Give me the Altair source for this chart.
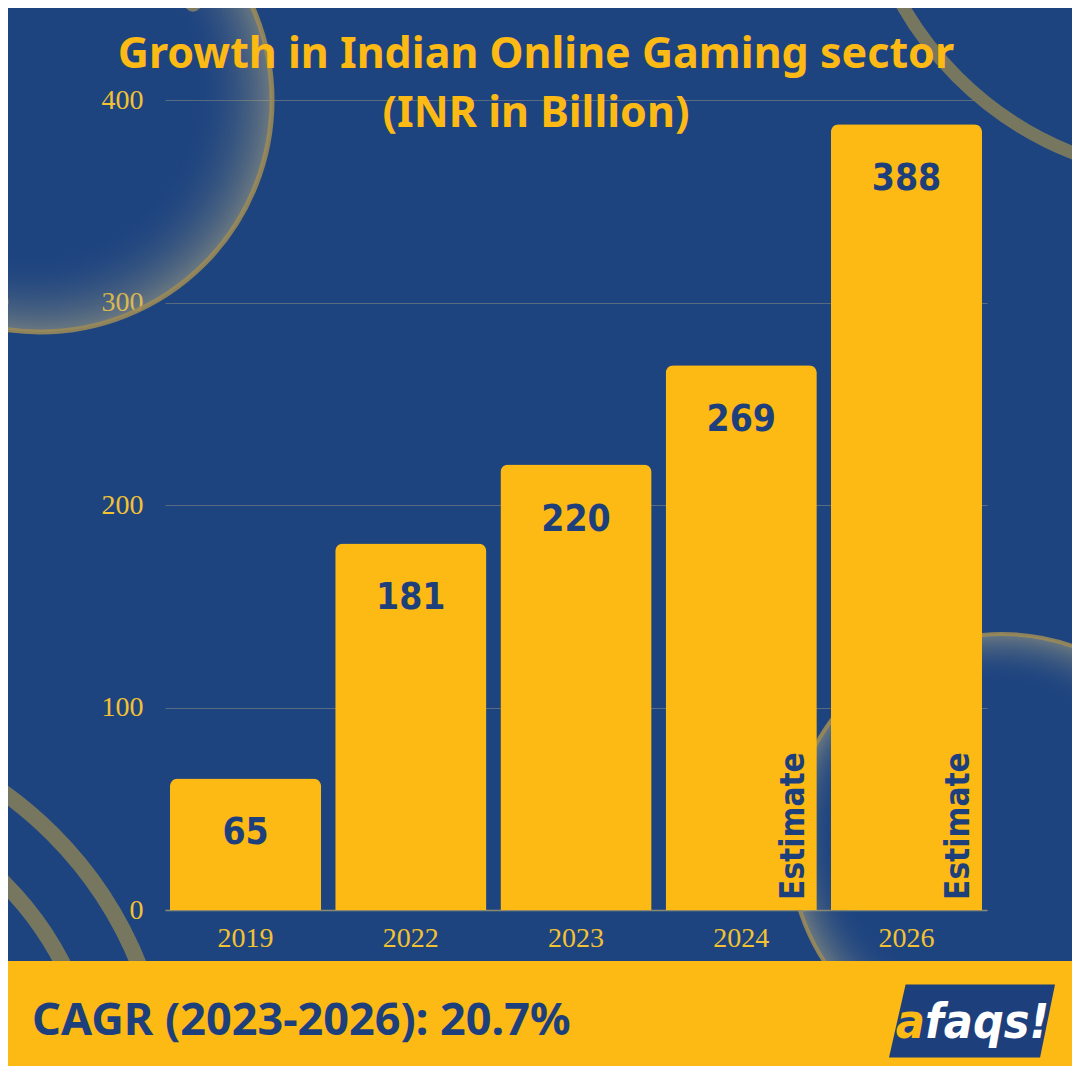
import altair as alt
import pandas as pd

# ---- data ----
years = ["2019", "2022", "2023", "2024", "2026"]
values = [65, 181, 220, 269, 388]
estimate = [False, False, False, True, True]
y_ticks = [0, 100, 200, 300, 400]
title_lines = ["Growth in Indian Online Gaming sector", "(INR in Billion)"]
cagr_text = "CAGR (2023-2026): 20.7%"

df = pd.DataFrame({"year": years, "value": values, "estimate": estimate})
df_est = df[df["estimate"]].assign(label="Estimate")

BG = "#1e4480"
YEL = "#fdb914"
NAVY = "#1d3f7c"
ARC = "#77775f"
COND = "DejaVu Sans Condensed, Roboto, sans-serif"
W, H = 822, 810

one = alt.Data(values=[{}])

x_enc = alt.X("year:N", sort=years,
              scale=alt.Scale(paddingInner=0.085, paddingOuter=0.03),
              axis=alt.Axis(title=None, labelAngle=0, labelPadding=14, ticks=False,
                            domain=True, domainColor="#8c8a6e", domainWidth=1.5,
                            labelFont="Liberation Serif", labelFontSize=28,
                            labelColor="#f2c232", grid=False))
y_enc = alt.Y("value:Q", scale=alt.Scale(domain=[0, 400], nice=False),
              axis=alt.Axis(title=None, values=y_ticks, ticks=False, domain=False,
                            labelFont="Liberation Serif", labelFontSize=28,
                            labelColor="#f2c232", labelPadding=22,
                            grid=True, gridColor="#8a8c80", gridOpacity=0.55, gridWidth=1))

glow = {"gradient": "radial", "x1": 0.4, "y1": 0.4, "r1": 0.0,
        "x2": 0.5, "y2": 0.5, "r2": 0.5,
        "stops": [{"offset": 0, "color": "rgba(30,68,128,0)"},
                  {"offset": 0.72, "color": "rgba(30,68,128,0)"},
                  {"offset": 1, "color": "rgba(200,185,130,0.45)"}]}

# decorative shapes (plot coords: page minus (165,100))
bubble_tl = alt.Chart(one).mark_point(filled=True, fill=glow, stroke="#9a8a58", strokeWidth=5,
                                       opacity=1, strokeOpacity=0.9).encode(
    x=alt.value(-125), y=alt.value(0), size=alt.value(464 ** 2))
bubble_br = alt.Chart(one).mark_point(filled=True, fill=glow, stroke="#9a8a58", strokeWidth=4,
                                       opacity=1, strokeOpacity=0.9).encode(
    x=alt.value(837), y=alt.value(746), size=alt.value(424 ** 2))
arc_tr = alt.Chart(one).mark_point(filled=False, stroke=ARC, strokeWidth=13, opacity=1).encode(
    x=alt.value(1034), y=alt.value(-265), size=alt.value(684 ** 2))
arc_bl1 = alt.Chart(one).mark_point(filled=False, stroke=ARC, strokeWidth=16, opacity=1).encode(
    x=alt.value(-388), y=alt.value(1010), size=alt.value(780 ** 2))
arc_bl2 = alt.Chart(one).mark_point(filled=False, stroke=ARC, strokeWidth=16, opacity=1).encode(
    x=alt.value(-388), y=alt.value(1010), size=alt.value(642 ** 2))
dot1 = alt.Chart(one).mark_point(filled=True, color="#7b7a66", opacity=1).encode(
    x=alt.value(28), y=alt.value(-97), size=alt.value(300))
dot2 = alt.Chart(one).mark_point(filled=True, color="#7b7a66", opacity=1).encode(
    x=alt.value(-165), y=alt.value(202), size=alt.value(300))

bars = alt.Chart(df).mark_bar(color=YEL, cornerRadiusTopLeft=8, cornerRadiusTopRight=8).encode(
    x=x_enc, y=y_enc)

labels = alt.Chart(df).mark_text(font=COND, fontWeight="bold", fontSize=37,
                                 color=NAVY, baseline="middle", dy=55).encode(
    x=alt.X("year:N", sort=years), y="value:Q", text="value:Q")

est = alt.Chart(df_est).mark_text(font=COND, fontWeight="bold", fontSize=33,
                                  color=NAVY, angle=270, align="left", baseline="middle").encode(
    x=alt.X("year:N", sort=years, bandPosition=0.85), y=alt.datum(5), text="label:N")

title1 = alt.Chart(one).mark_text(font="Noto Sans", fontWeight="bold", fontSize=43, color=YEL,
                                  align="center", baseline="alphabetic").encode(
    x=alt.value(371), y=alt.value(-32), text=alt.value(title_lines[0]))
title2 = alt.Chart(one).mark_text(font="Noto Sans", fontWeight="bold", fontSize=43, color=YEL,
                                  align="center", baseline="alphabetic").encode(
    x=alt.value(371), y=alt.value(27), text=alt.value(title_lines[1]))

banner = alt.Chart(one).mark_rect(color=YEL, opacity=1).encode(
    x=alt.value(-157), x2=alt.value(907), y=alt.value(861), y2=alt.value(970))

cagr = alt.Chart(one).mark_text(font="Noto Sans", fontWeight="bold", fontSize=45, color=NAVY,
                                align="left", baseline="alphabetic").encode(
    x=alt.value(-133), y=alt.value(935), text=alt.value(cagr_text))

logo_bg = alt.Chart(one).mark_point(filled=True, color=NAVY, opacity=1,
                                    shape="M -0.8 -0.44 L 1 -0.44 L 0.82 0.44 L -1 0.44 Z").encode(
    x=alt.value(807), y=alt.value(921), size=alt.value(166 ** 2))
logo_a = alt.Chart(one).mark_text(font=COND, fontWeight="bold", fontStyle="italic",
                                  fontSize=48, color=YEL, align="right", baseline="alphabetic").encode(
    x=alt.value(760), y=alt.value(938), text=alt.value("a"))
logo_rest = alt.Chart(one).mark_text(font=COND, fontWeight="bold", fontStyle="italic",
                                     fontSize=48, color="white", align="left", baseline="alphabetic").encode(
    x=alt.value(760), y=alt.value(938), text=alt.value("faqs!"))

chart = alt.layer(
    bubble_tl, bubble_br, arc_tr, arc_bl1, arc_bl2, dot1, dot2,
    bars, labels, est, title1, title2,
    banner, cagr, logo_bg, logo_a, logo_rest
).properties(
    width=W, height=H,
    autosize=alt.AutoSizeParams(type="none"),
    padding={"left": 157, "top": 92, "right": 85, "bottom": 156},
).configure(background=BG).configure_view(stroke=None)

chart.save("out.html", embed_options={"renderer": "svg", "actions": False})
